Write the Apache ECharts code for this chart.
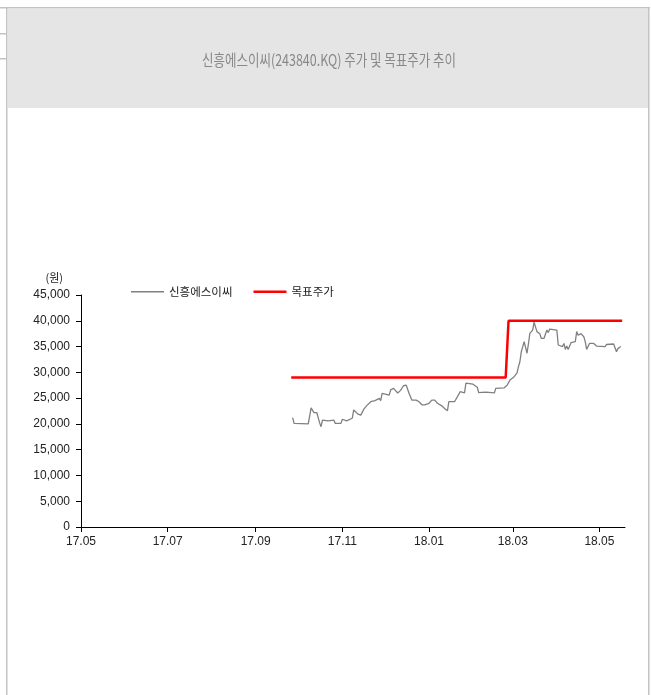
<!DOCTYPE html>
<html>
<head>
<meta charset="utf-8">
<script src="https://cdn.jsdelivr.net/npm/echarts@6/dist/echarts.min.js"></script>
<style>
  html, body { margin: 0; padding: 0; background: #fff; }
  #main { width: 651px; height: 695px; }
</style>
</head>
<body>
<div id="main"></div>
<script>
// 주가 (종가)
const priceDates = [
  '2017-09-27', '2017-09-28', '2017-10-08', '2017-10-10', '2017-10-12', '2017-10-14', '2017-10-16', '2017-10-17',
  '2017-10-18', '2017-10-22', '2017-10-26', '2017-10-27', '2017-10-31', '2017-11-01', '2017-11-04', '2017-11-08',
  '2017-11-09', '2017-11-12', '2017-11-14', '2017-11-16', '2017-11-18', '2017-11-21', '2017-11-24', '2017-11-27',
  '2017-11-28', '2017-11-29', '2017-12-04', '2017-12-05', '2017-12-07', '2017-12-10', '2017-12-12', '2017-12-14',
  '2017-12-16', '2017-12-17', '2017-12-18', '2017-12-20', '2017-12-23', '2017-12-25', '2017-12-27', '2017-12-29',
  '2018-01-01', '2018-01-03', '2018-01-05', '2018-01-07', '2018-01-10', '2018-01-12', '2018-01-14', '2018-01-15',
  '2018-01-19', '2018-01-23', '2018-01-26', '2018-01-27', '2018-02-01', '2018-02-04', '2018-02-05', '2018-02-10',
  '2018-02-11', '2018-02-16', '2018-02-17', '2018-02-23', '2018-02-25', '2018-02-27', '2018-03-02', '2018-03-04',
  '2018-03-05', '2018-03-06', '2018-03-07', '2018-03-08', '2018-03-09', '2018-03-11', '2018-03-12', '2018-03-13',
  '2018-03-15', '2018-03-16', '2018-03-18', '2018-03-19', '2018-03-20', '2018-03-21', '2018-03-23', '2018-03-25',
  '2018-03-26', '2018-03-27', '2018-04-01', '2018-04-02', '2018-04-03', '2018-04-05', '2018-04-06', '2018-04-07',
  '2018-04-08', '2018-04-09', '2018-04-11', '2018-04-14', '2018-04-15', '2018-04-16', '2018-04-18', '2018-04-20',
  '2018-04-21', '2018-04-22', '2018-04-24', '2018-04-25', '2018-04-27', '2018-04-29', '2018-05-05', '2018-05-06',
  '2018-05-11', '2018-05-12', '2018-05-13', '2018-05-14', '2018-05-16'
]
const priceValues = [
  21200, 20100, 20000, 23100, 22200, 22200, 20200, 19450,
  20750, 20600, 20750, 20100, 20100, 20900, 20600, 21100,
  22700, 21900, 21700, 22800, 23500, 24300, 24500, 24950,
  24500, 25900, 25600, 26600, 26900, 26000, 26500, 27400,
  27500, 27200, 25900, 24600, 24600, 24300, 23700, 23700,
  24000, 24600, 24600, 24000, 23500, 23000, 22550, 24300,
  24300, 26250, 26000, 27900, 27700, 27100, 26050, 26150,
  25900, 26000, 26900, 27000, 27500, 28500, 29150, 29900,
  31100, 32050, 34000, 34100, 35950, 33700, 35500, 37550,
  38200, 39750, 37900, 38200, 37500, 36600, 36600, 38200,
  37700, 38400, 38200, 35300, 35600, 35000, 35600, 34450,
  35100, 34450, 35750, 35950, 37900, 37200, 37500, 36900,
  35950, 34450, 35600, 35800, 35600, 35100, 35000, 35400,
  35500, 35400, 34000, 34600, 35000
]
// 목표주가
const targetDates = ['2017-09-26', '2018-02-24', '2018-02-26', '2018-05-17']
const targetValues = [29000, 29000, 40000, 40000]
// x축 눈금 (yy.mm)
const xTickLabels = ['17.05', '17.07', '17.09', '17.11', '18.01', '18.03', '18.05']

const toTime = s => {
  const [y, m, d] = s.split('-').map(Number)
  return new Date(y, m - 1, d).getTime()
}
const zip = (d, v) => d.map((x, i) => [toTime(x), v[i]])
const tickTimes = xTickLabels.map(s => {
  const [y, m] = s.split('.')
  return new Date(2000 + Number(y), Number(m) - 1, 1).getTime()
})
const fmtDate = v => {
  const d = new Date(v)
  return String(d.getFullYear()).slice(2) + '.' + String(d.getMonth() + 1).padStart(2, '0')
}

const chart = echarts.init(document.getElementById('main'))
chart.setOption({
  animation: false,
  textStyle: { fontFamily: 'Liberation Sans' },
  graphic: [
    // 테두리
    { type: 'rect', shape: { x: 0, y: 7, width: 650, height: 1.5 }, style: { fill: '#c3c3c3' } },
    { type: 'rect', shape: { x: 0, y: 33, width: 7, height: 1.5 }, style: { fill: '#c3c3c3' } },
    { type: 'rect', shape: { x: 0, y: 58, width: 7, height: 1.5 }, style: { fill: '#c3c3c3' } },
    { type: 'rect', shape: { x: 8, y: 9, width: 640, height: 99 }, style: { fill: '#e5e5e5' } },
    { type: 'rect', shape: { x: 6, y: 7, width: 1.5, height: 690 }, style: { fill: '#c3c3c3' } },
    { type: 'rect', shape: { x: 648, y: 7, width: 1.5, height: 690 }, style: { fill: '#c3c3c3' } },
    {
      type: 'text', x: 329, y: 60, scaleX: 0.78,
      style: {
        text: '신흥에스이씨(243840.KQ) 주가 및 목표주가 추이',
        font: '16px "Noto Sans CJK KR"', fill: '#888',
        textAlign: 'center', textVerticalAlign: 'middle'
      }
    }
  ],
  legend: {
    left: 126, top: 281,
    itemWidth: 33, itemHeight: 14, itemGap: 21,
    textStyle: { fontFamily: 'Noto Sans CJK KR', fontSize: 11.5, color: '#222' },
    data: [
      { name: '신흥에스이씨', icon: 'path://M0 0H33V1.3H0Z' },
      { name: '목표주가', icon: 'path://M0 0H33V2.6H0Z' }
    ]
  },
  grid: { left: 81, right: 26, top: 295, bottom: 168 },
  xAxis: {
    type: 'value',
    min: tickTimes[0],
    max: toTime('2018-05-19'),
    axisLine: { lineStyle: { color: '#000', width: 1 } },
    axisTick: { show: true, length: 5, customValues: tickTimes, lineStyle: { color: '#000' } },
    axisLabel: {
      customValues: tickTimes, formatter: fmtDate,
      color: '#222', fontSize: 12, margin: 9
    },
    splitLine: { show: false }
  },
  yAxis: {
    type: 'value',
    min: 0, max: 45000, interval: 5000,
    name: '(원)', nameLocation: 'end', nameGap: 12,
    nameTextStyle: { fontFamily: 'Noto Sans CJK KR', fontSize: 11, color: '#222', align: 'right', padding: [0, 18, 0, 0] },
    axisLine: { show: true, lineStyle: { color: '#000', width: 1 } },
    axisTick: { show: true, length: 5, lineStyle: { color: '#000' } },
    axisLabel: {
      color: '#222', fontSize: 12, margin: 11,
      formatter: v => v.toLocaleString('en-US')
    },
    splitLine: { show: false }
  },
  series: [
    {
      name: '신흥에스이씨',
      type: 'line',
      symbol: 'none',
      data: zip(priceDates, priceValues),
      lineStyle: { color: '#808080', width: 1.3 },
      itemStyle: { color: '#808080' }
    },
    {
      name: '목표주가',
      type: 'line',
      symbol: 'none',
      data: zip(targetDates, targetValues),
      lineStyle: { color: '#ff0000', width: 2.5 },
      itemStyle: { color: '#ff0000' }
    }
  ]
})
</script>
</body>
</html>
